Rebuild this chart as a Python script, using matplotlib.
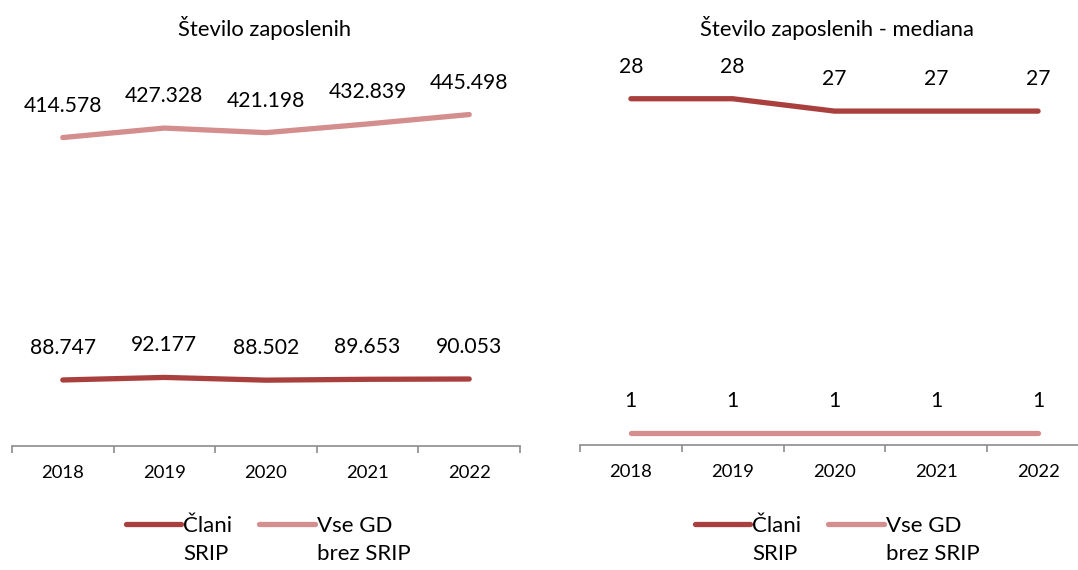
import matplotlib
matplotlib.use('Agg')
import matplotlib.pyplot as plt
from matplotlib.ticker import FixedLocator
from matplotlib.legend_handler import HandlerLine2D

plt.rcParams['font.family'] = ['Lato', 'DejaVu Sans']

years = ['2018', '2019', '2020', '2021', '2022']
clani = [88.747, 92.177, 88.502, 89.653, 90.053]
vse_gd = [414.578, 427.328, 421.198, 432.839, 445.498]
clani_med = [28, 28, 27, 27, 27]
vse_gd_med = [1, 1, 1, 1, 1]

title_left = 'Število zaposlenih'
title_right = 'Število zaposlenih - mediana'
labels = ['Člani\nSRIP', 'Vse GD\nbrez SRIP']

dark = '#A9403E'
light = '#D38E8D'
axis_col = '#8C8C8C'

fig = plt.figure(figsize=(10.78, 5.70), dpi=100)
ax1 = fig.add_axes([12/1078, 1-446/570, 508/1078, 372/570])
ax2 = fig.add_axes([580/1078, 1-445/570, 509/1078, 371/570])


class UpHandler(HandlerLine2D):
    # keep the line level with the first text line
    def create_artists(self, legend, orig_handle, xdescent, ydescent,
                       width, height, fontsize, trans):
        arts = super().create_artists(legend, orig_handle, xdescent, ydescent,
                                      width, height, fontsize, trans)
        for a in arts:
            a.set_ydata([y + 11.5 for y in a.get_ydata()])
        return arts


def draw(ax, s1, s2, ymax, dec):
    x = range(len(years))
    l1, = ax.plot(x, s1, color=dark, lw=3.8, solid_capstyle='round')
    l2, = ax.plot(x, s2, color=light, lw=3.8, solid_capstyle='round')
    for s in (s1, s2):
        for i, v in enumerate(s):
            txt = f'{v:.3f}' if dec else f'{v:d}'
            ax.annotate(txt, (i, v), xytext=(0, 23), textcoords='offset points',
                        ha='center', va='center', fontsize=15.2)
    ax.set_xlim(-0.5, len(years) - 0.5)
    ax.set_ylim(0, ymax)
    ax.set_xticks(list(x))
    ax.set_xticklabels(years, fontsize=13.3)
    ax.tick_params(axis='x', which='major', length=0, pad=14)
    ax.xaxis.set_minor_locator(FixedLocator([i - 0.5 for i in range(len(years) + 1)]))
    ax.tick_params(axis='x', which='minor', length=5, width=1.2, color=axis_col)
    ax.set_yticks([])
    for sp in ('left', 'right', 'top'):
        ax.spines[sp].set_visible(False)
    ax.spines['bottom'].set_color(axis_col)
    ax.spines['bottom'].set_linewidth(1.2)
    return l1, l2


h1, h2 = draw(ax1, clani, vse_gd, 500, True)
draw(ax2, clani_med, vse_gd_med, 30, False)

fig.text(265/1078, 1-28/570, title_left, ha='center', va='center', fontsize=15.8)
fig.text(837/1078, 1-28/570, title_right, ha='center', va='center', fontsize=15.8)

for cx in (268, 837):
    leg = fig.legend([h1, h2], labels, loc='center', bbox_to_anchor=(cx/1078, 1-540/570),
                     ncol=2, frameon=False, fontsize=16, handlelength=2.5,
                     handletextpad=0.1, columnspacing=1.2,
                     handler_map={h1: UpHandler(), h2: UpHandler()})
    for t in leg.get_texts():
        t.set_linespacing(1.45)

fig.savefig('out.png', dpi=100)
